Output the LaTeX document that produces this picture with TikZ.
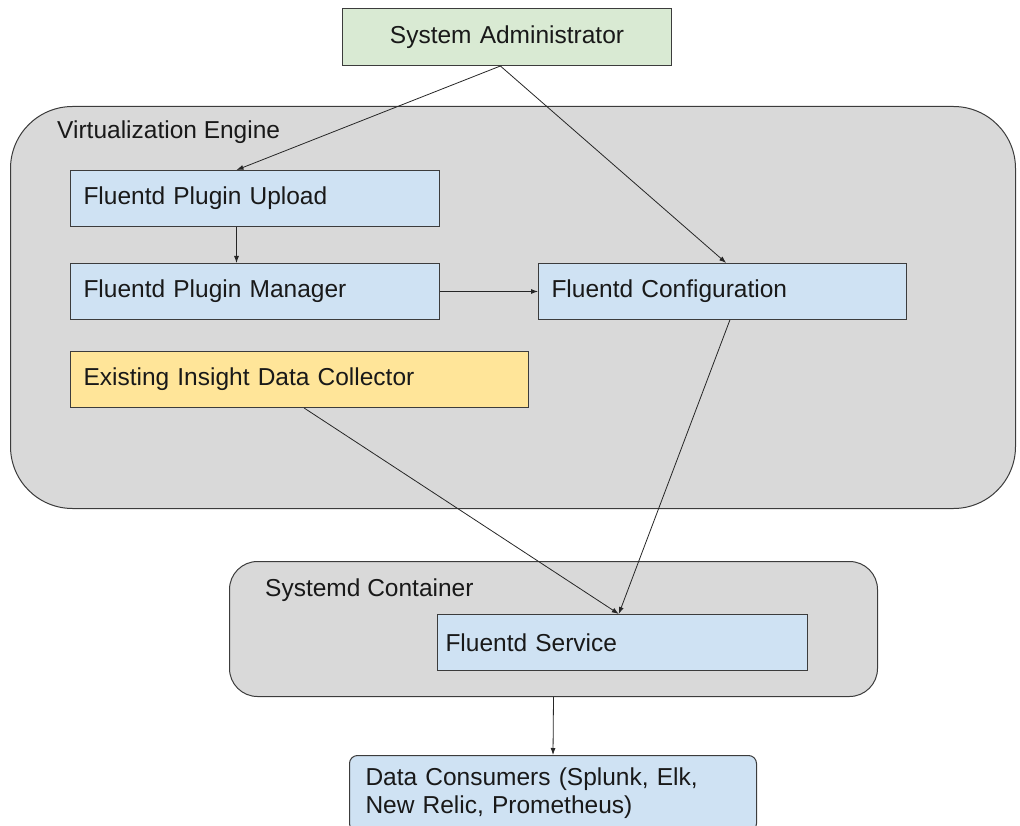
\documentclass[tikz,border=0pt]{standalone}
\usepackage{fontspec}
\setmainfont{Liberation Sans}
\usepackage{tikz}
\usetikzlibrary{positioning,arrows.meta,calc}
\usepackage{xcolor}

\definecolor{adminfill}{HTML}{D9EAD3}
\definecolor{partfill}{HTML}{CFE2F3}
\definecolor{oldfill}{HTML}{FFE599}
\definecolor{groupfill}{HTML}{D9D9D9}
\definecolor{edgegray}{HTML}{3C3C3C}

\tikzset{
  part/.style={draw=edgegray, line width=1pt, fill=partfill, anchor=north west,
    inner xsep=13pt, inner ysep=0pt, align=left, minimum height=56pt,
    text=black!90, font=\fontsize{24.5}{28}\selectfont},
  group/.style={draw=edgegray, line width=1pt, fill=groupfill, anchor=north west,
    inner sep=0pt, rounded corners=#1},
  grouplabel/.style={anchor=west, inner sep=0pt, text=black!90,
    font=\fontsize{24.5}{28}\selectfont},
  flow/.style={->, line width=0.8pt, draw=black!85},
}

\begin{document}
\begin{tikzpicture}[x=1pt, y=-1pt, >={Latex[length=7pt,width=5pt]}]
\useasboundingbox (0,0) rectangle (1020,826);
\clip (0,0) rectangle (1020,826);

% groups
\node[group=62pt, minimum width=1005pt, minimum height=402pt] (engine) at (10,106) {};
\node[grouplabel] (enginelabel) at (57,132) {Virtualization Engine};
\node[group=28pt, minimum width=648pt, minimum height=135pt] (systemd) at (229,561) {};
\node[grouplabel] (systemdlabel) at (265,590) {Systemd Container};

% boxes
\node[part, fill=adminfill, align=center, text width=303pt, minimum height=57pt] (admin) at (342,8) {System Administrator};
\node[part, text width=343pt] (upload) at (70,170) {Fluentd Plugin Upload};
\node[part, text width=343pt] (manager) at (70,263) {Fluentd Plugin Manager};
\node[part, text width=342pt] (config) at (538,263) {Fluentd Configuration};
\node[part, fill=oldfill, text width=432pt] (collector) at (70,351) {Existing Insight Data Collector};
\node[part, inner xsep=8pt, text width=354pt] (service) at (437,614) {Fluentd Service};
\node[part, rounded corners=8pt, inner xsep=16pt, text width=375pt, minimum height=76pt] (consumers) at (349,755) {Data Consumers (Splunk, Elk,\\New Relic, Prometheus)};

% arrows
\draw[flow] ($(admin.south west)!.48!(admin.south east)$) -- ($(upload.north west)!.45!(upload.north east)$);
\draw[flow] ($(admin.south west)!.48!(admin.south east)$) -- ($(config.north west)!.51!(config.north east)$);
\draw[flow] ($(upload.south west)!.45!(upload.south east)$) -- ($(manager.north west)!.45!(manager.north east)$);
\draw[flow] (manager.east) -- (config.west);
\draw[flow] ($(collector.south west)!.51!(collector.south east)$) -- ($(service.north west)!.49!(service.north east)$);
\draw[flow] ($(config.south west)!.52!(config.south east)$) -- ($(service.north west)!.49!(service.north east)$);
\draw[flow] (systemd.south) -- (consumers.north);
\end{tikzpicture}
\end{document}
